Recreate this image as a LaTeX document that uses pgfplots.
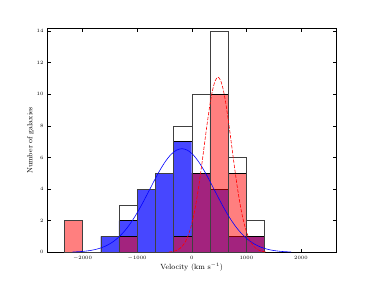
\documentclass[border=0pt]{standalone}
\usepackage{pgfplots}
\pgfplotsset{compat=1.18}
\begin{document}
\begin{tikzpicture}
\begin{axis}[
  at={(0,0)}, anchor=south west,
  scale only axis, width=289.5bp, height=223.8bp,
  xmin=-2650, xmax=2650, ymin=0, ymax=14.15,
  xtick={-2000,-1000,0,1000,2000},
  ytick={0,2,4,6,8,10,12,14},
  tick align=inside, tick pos=both,
  major tick length=3.5bp,
  tick style={black, line width=0.4pt},
  ticklabel style={font=\fontsize{5.5}{6}\selectfont},
  xlabel={Velocity (km s$^{-1}$)},
  ylabel={Number of galaxies},
  label style={font=\fontsize{7.5}{8}\selectfont},
  xlabel style={yshift=4pt},
  ylabel style={yshift=-4pt},
  axis line style={black, line width=0.5pt},
  scaled ticks=false,
  /pgf/number format/1000 sep={},
]
% blue sample
\addplot[ybar interval, fill=blue, fill opacity=0.72, draw=black, draw opacity=1, line width=0.4pt]
coordinates {(-1666.7,1) (-1333.3,2) (-1000,4) (-666.7,5) (-333.3,7) (0,5) (333.3,4) (666.7,1) (1000,1) (1333.3,0)};
% red sample
\addplot[ybar interval, fill=red, fill opacity=0.5, draw=black, draw opacity=1, line width=0.4pt]
coordinates {(-2333.3,2) (-2000,0) (-1666.7,0) (-1333.3,1) (-1000,0) (-666.7,0) (-333.3,1) (0,5) (333.3,10) (666.7,5) (1000,1) (1333.3,0)};
% total outline
\addplot[ybar interval, fill=none, draw=black!75, line width=0.4pt]
coordinates {(-2333.3,2) (-2000,0) (-1666.7,1) (-1333.3,3) (-1000,4) (-666.7,5) (-333.3,8) (0,10) (333.3,14) (666.7,6) (1000,2) (1333.3,0)};
% blue gaussian
\addplot[blue, line width=0.6pt, smooth] coordinates {
(-2180,0.0209) (-2080,0.0367) (-1980,0.0624) (-1880,0.1031) (-1780,0.1656)
(-1680,0.2585) (-1580,0.3923) (-1480,0.5780) (-1380,0.8280) (-1280,1.1521)
(-1180,1.5574) (-1080,2.0462) (-980,2.6122) (-880,3.2402) (-780,3.9054)
(-680,4.5738) (-580,5.2052) (-480,5.7557) (-380,6.1842) (-280,6.4566)
(-180,6.55)
(-80,6.4566) (20,6.1842) (120,5.7557) (220,5.2052) (320,4.5738)
(420,3.9054) (520,3.2402) (620,2.6122) (720,2.0462) (820,1.5574)
(920,1.1521) (1020,0.8280) (1120,0.5780) (1220,0.3923) (1320,0.2585)
(1420,0.1656) (1520,0.1031) (1620,0.0624) (1720,0.0367) (1820,0.0209)};
% red gaussian
\addplot[red, line width=0.6pt, dash pattern=on 3.5pt off 1.5pt, smooth] coordinates {
(-420,0.0188) (-370,0.0375) (-320,0.0717) (-270,0.1320) (-220,0.2336)
(-170,0.3975) (-120,0.6502) (-70,1.0225) (-20,1.5462) (30,2.2475)
(80,3.141) (130,4.219) (180,5.450) (230,6.768) (280,8.079)
(330,9.273) (380,10.232) (430,10.854) (480,11.07) (530,10.854)
(580,10.232) (630,9.273) (680,8.079) (730,6.768) (780,5.450)
(830,4.219) (880,3.141) (930,2.2475) (980,1.5462) (1030,1.0225)
(1080,0.6502) (1130,0.3975) (1180,0.2336) (1230,0.1320) (1280,0.0717)
(1330,0.0375) (1380,0.0188)};
\end{axis}
\useasboundingbox (-47bp,-28.7bp) rectangle (328bp,252.3bp);
\end{tikzpicture}
\end{document}
